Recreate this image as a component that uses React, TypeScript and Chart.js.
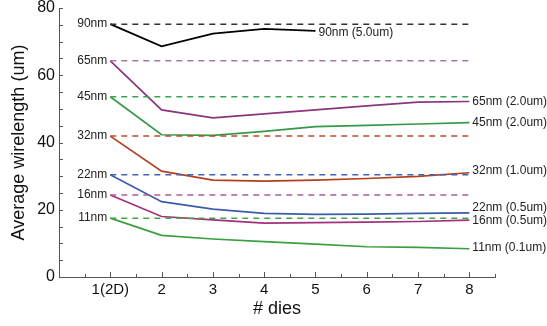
import React, { useEffect, useRef } from "react";
import { Chart, registerables } from "chart.js";

Chart.register(...registerables);

const dies = [1, 2, 3, 4, 5, 6, 7, 8];
const nodes = ["90nm", "65nm", "45nm", "32nm", "22nm", "16nm", "11nm"];
const rightLabels = ["90nm (5.0um)", "65nm (2.0um)", "45nm (2.0um)", "32nm (1.0um)", "22nm (0.5um)", "16nm (0.5um)", "11nm (0.1um)"];
const baseline2D = [75.2, 64.3, 53.6, 41.9, 30.4, 24.4, 17.5];
const wl90 = [75.2, 68.6, 72.4, 73.8, 73.2];
const wl65 = [64.3, 49.7, 47.3, 48.5, 49.7, 50.9, 52.0, 52.2];
const wl45 = [53.6, 42.3, 42.1, 43.3, 44.7, 45.1, 45.5, 45.9];
const wl32 = [41.9, 31.5, 28.8, 28.5, 28.8, 29.3, 29.9, 31.0];
const wl22 = [30.4, 22.4, 20.2, 18.9, 18.6, 18.7, 18.9, 19.1];
const wl16 = [24.4, 18.0, 17.0, 16.0, 16.2, 16.3, 16.5, 16.9];
const wl11 = [17.5, 12.4, 11.3, 10.5, 9.8, 9.0, 8.8, 8.4];
const rightLabelY = [72.7, 52.0, 45.9, 31.5, 20.5, 16.7, 8.7];
const xTickLabels = ["1(2D)", "2", "3", "4", "5", "6", "7", "8"];
const yTickLabels = [0, 20, 40, 60, 80];

const solidColors = ["#000000", "#8a357c", "#36994a", "#b2401e", "#3c5ca8", "#a2307e", "#3c9e3e"];
const dashColors = ["#333333", "#a8779f", "#3aa452", "#be4a2c", "#4064b8", "#ad5b98", "#40a845"];

const series = [wl90, wl65, wl45, wl32, wl22, wl16, wl11];

export default function App() {
  const ref = useRef<HTMLCanvasElement | null>(null);
  useEffect(() => {
    const canvas = ref.current;
    if (!canvas) return;
    const font = "'Liberation Sans', Arial, sans-serif";
    Chart.defaults.font.family = font;

    const datasets: any[] = [];
    series.forEach((vals, i) => {
      datasets.push({
        label: nodes[i] + " base",
        data: [{ x: dies[0], y: baseline2D[i] }, { x: dies[dies.length - 1], y: baseline2D[i] }],
        borderColor: dashColors[i],
        borderWidth: 1.5,
        borderDash: [6, 5],
        pointRadius: 0,
        tension: 0,
      });
    });
    series.forEach((vals, i) => {
      datasets.push({
        label: rightLabels[i],
        data: vals.map((v, j) => ({ x: dies[j], y: v })),
        borderColor: solidColors[i],
        borderWidth: 1.7,
        pointRadius: 0,
        tension: 0,
      });
    });

    const labelPlugin = {
      id: "labels",
      afterDraw(chart: any) {
        const ctx = chart.ctx;
        const xs = chart.scales.x;
        const ys = chart.scales.y;
        const area = chart.chartArea;
        ctx.save();
        ctx.strokeStyle = "#555";
        ctx.lineWidth = 1;
        for (let v = 0; v <= 80; v += 5) {
          const y = Math.round(ys.getPixelForValue(v)) + 0.5;
          ctx.beginPath();
          ctx.moveTo(area.left, y);
          ctx.lineTo(area.left + 4, y);
          ctx.stroke();
        }
        for (let v = 0.5; v <= 8.5; v += 0.5) {
          const x = Math.round(xs.getPixelForValue(v)) + 0.5;
          const len = Number.isInteger(v) ? 5 : 3;
          ctx.beginPath();
          ctx.moveTo(x, area.bottom);
          ctx.lineTo(x, area.bottom - len);
          ctx.stroke();
        }
        ctx.font = "12px " + font;
        ctx.fillStyle = "#222";
        ctx.textBaseline = "middle";
        ctx.textAlign = "right";
        nodes.forEach((n, i) => {
          ctx.fillText(n, xs.getPixelForValue(dies[0]) - 3, ys.getPixelForValue(baseline2D[i]));
        });
        ctx.textAlign = "left";
        series.forEach((vals, i) => {
          const lastX = dies[vals.length - 1];
          ctx.fillText(rightLabels[i], xs.getPixelForValue(lastX) + 3, ys.getPixelForValue(rightLabelY[i]));
        });
        ctx.restore();
      },
    };

    const chart = new Chart(canvas, {
      type: "line",
      data: { datasets },
      plugins: [labelPlugin],
      options: {
        animation: false,
        responsive: true,
        maintainAspectRatio: false,
        parsing: false as any,
        layout: { padding: { left: 0, right: 52, top: 8, bottom: 0 } },
        plugins: { legend: { display: false }, tooltip: { enabled: false } },
        scales: {
          x: {
            type: "linear",
            min: 0,
            max: 8.5,
            afterFit: (s: any) => { s.height = 49; s.paddingLeft = 0; s.paddingRight = 0; },
            afterBuildTicks: (s: any) => {
              const t: any[] = [];
              for (let v = 0; v <= 8.5; v += 0.5) t.push({ value: v });
              s.ticks = t;
            },
            ticks: {
              autoSkip: false,
              maxRotation: 0,
              padding: 4,
              color: "#111",
              font: { size: 15 },
              callback: (v: any) => {
                const idx = dies.indexOf(Number(v));
                return idx >= 0 ? xTickLabels[idx] : "";
              },
            },
            grid: { display: false, drawTicks: false },
            border: { display: true, color: "#555", width: 1 },
            title: { display: true, text: "# dies", color: "#111", font: { size: 18 }, padding: { top: 0, bottom: 6 } },
          },
          y: {
            type: "linear",
            min: 0,
            max: 80,
            afterFit: (s: any) => { s.width = 59; s.paddingTop = 0; s.paddingBottom = 0; },
            afterBuildTicks: (s: any) => {
              const t: any[] = [];
              for (let v = 0; v <= 80; v += 5) t.push({ value: v });
              s.ticks = t;
            },
            ticks: {
              autoSkip: false,
              padding: 4,
              color: "#111",
              font: { size: 16 },
              callback: (v: any) => (yTickLabels.indexOf(Number(v)) >= 0 ? String(v) : ""),
            },
            grid: { display: false, drawTicks: false },
            border: { display: true, color: "#555", width: 1 },
            title: { display: true, text: "Average wirelength (um)", color: "#111", font: { size: 18 }, padding: { top: 8, bottom: 0 } },
          },
        },
      },
    });
    return () => chart.destroy();
  }, []);

  return (
    <div style={{ position: "absolute", left: 0, top: 0, width: 547, height: 326, background: "#fff" }}>
      <canvas ref={ref} />
    </div>
  );
}
